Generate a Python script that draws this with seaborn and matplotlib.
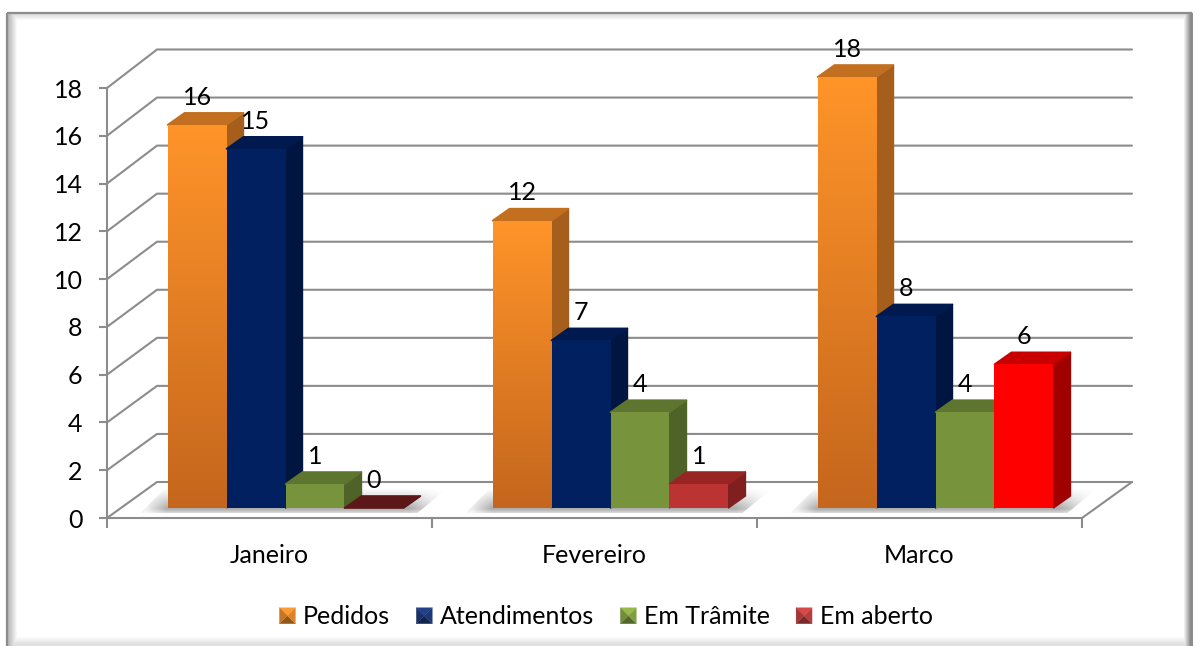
import numpy as np
import pandas as pd
import seaborn as sns
import matplotlib
matplotlib.use('Agg')
from matplotlib import pyplot as plt
from matplotlib.patches import Polygon, Rectangle
from matplotlib.legend_handler import HandlerBase
from matplotlib.colors import to_rgb

# values
meses = ['Janeiro', 'Fevereiro', 'Marco']
series = ['Pedidos', 'Atendimentos', 'Em Trâmite', 'Em aberto']
pedidos = [16, 12, 18]
atendimentos = [15, 7, 8]
em_tramite = [1, 4, 4]
em_aberto = [0, 1, 6]
y_ticks = [0, 2, 4, 6, 8, 10, 12, 14, 16, 18]

W, H = 1200, 646
GRAY = '#8c8c8c'
FS = 18

# (front top, front bottom, top face, side face), one per month
cores = {
    'Pedidos': [('#ff9429', '#c4661d', '#c2701f', '#a65e1c')] * 3,
    'Atendimentos': [('#002060', '#002060', '#001a50', '#00153f')] * 3,
    'Em Trâmite': [('#77933c', '#77933c', '#5e7530', '#4f6228')] * 3,
    'Em aberto': [('#5c1818', '#5c1818', '#5c1818', '#5c1818'),
                  ('#bb3333', '#bb3333', '#982424', '#7f1f1f'),
                  ('#ff0000', '#ff0000', '#c80000', '#a00000')],
}
legend_cores = ['#e98a2a', '#1f3a7a', '#86a544', '#c24040']

sns.set_theme(style='white')
plt.rcParams['font.family'] = ['Lato', 'DejaVu Sans']

df = pd.DataFrame({
    'mes': meses * 4,
    'serie': np.repeat(series, 3),
    'valor': pedidos + atendimentos + em_tramite + em_aberto,
})


def px_axes(fig, left, top, right, bottom):
    return fig.add_axes([left / W, 1 - bottom / H, (right - left) / W, (bottom - top) / H])


def vgrad(c1, c2, n=128):
    a, b = np.array(to_rgb(c1)), np.array(to_rgb(c2))
    t = np.linspace(0, 1, n)[:, None]
    return (a * (1 - t) + b * t)[:, None, :]


fig = plt.figure(figsize=(W / 100, H / 100), dpi=100, facecolor='white')

# chart frame with soft inner shadow
bg = fig.add_axes([0, 0, 1, 1], zorder=0)
bg.axis('off')
xx, yy = np.meshgrid(np.arange(W), np.arange(H))
shade = np.ones((H, W))
shade = np.minimum(shade, 0.72 + 0.28 * np.clip((xx - 8) / 9, 0, 1))
shade = np.minimum(shade, 0.86 + 0.14 * np.clip((yy - 14) / 6, 0, 1))
shade = np.minimum(shade, 0.55 + 0.45 * np.clip((1190 - xx) / 7, 0, 1))
shade = np.minimum(shade, 0.88 + 0.12 * np.clip((643 - yy) / 7, 0, 1))
shade[(xx < 7) | (xx > 1192) | (yy < 13)] = 1
bg.imshow(shade, cmap='gray', vmin=0, vmax=1, extent=(0, W, H, 0), aspect='auto', interpolation='bilinear')
bg.add_patch(Rectangle((7, 13), 1184, 640, fill=False, ec=GRAY, lw=1.6))
bg.set_xlim(0, W)
bg.set_ylim(H, 0)

# front plane of the axes: labels, ticks, floor and back wall
ax = px_axes(fig, 107, 88, 1082, 518)
ax.set_zorder(1)
ax.patch.set_alpha(0)
ax.set_xlim(-0.5, 2.5)
ax.set_ylim(0, 18)
for s in ['top', 'right']:
    ax.spines[s].set_visible(False)
for s in ['left', 'bottom']:
    ax.spines[s].set_color(GRAY)
    ax.spines[s].set_linewidth(1.5)
ax.set_yticks(y_ticks)
ax.set_xticks([-0.5, 0.5, 1.5, 2.5])
ax.set_xticklabels([])
ax.set_xticks([0, 1, 2], minor=True)
ax.set_xticklabels(meses, minor=True)
ax.tick_params(axis='y', left=True, length=6, width=1.5, color=GRAY, pad=11.5, labelsize=FS, labelcolor='black')
ax.tick_params(axis='x', which='major', bottom=True, length=7, width=1.5, color=GRAY)
ax.tick_params(axis='x', which='minor', bottom=False, length=0, pad=19, labelsize=FS, labelcolor='black')

dep_x = 50 / (975 / 3)
dep_y = 36 / (430 / 18)
back = 432.5 / 430
for v in y_ticks:
    ax.plot([-0.5, -0.5 + dep_x, 2.5 + dep_x], [v, v * back + dep_y, v * back + dep_y], color=GRAY, lw=1.5,
            clip_on=False, zorder=1, solid_joinstyle='miter')
ax.plot([2.5, 2.5 + dep_x], [0, dep_y], color=GRAY, lw=1.5, clip_on=False, zorder=1)

# bars plane
ax_b = px_axes(fig, 123, 77, 1098, 508)
ax_b.set_zorder(2)
ax_b.patch.set_alpha(0)
sns.barplot(data=df, x='mes', y='valor', hue='serie', hue_order=series, order=meses,
            width=0.726, gap=0, legend=False, ax=ax_b)
ax_b.set_xlim(-0.5, 2.5)
ax_b.set_ylim(0, 18)
ax_b.axis('off')

px_x = 3 / 975
px_y = 18 / 431
side_x = 17 * px_x
side_y = 12 * px_y

# floor shadow under each group
for g in range(3):
    first = ax_b.containers[0][g]
    last = ax_b.containers[3][g]
    x0, x1 = first.get_x(), last.get_x() + last.get_width()
    y0, y1 = -5 * px_y, 20 * px_y
    poly = Polygon([(x0 - 27 * px_x, y0), (x0 - 2 * px_x, y1), (x1 + 44 * px_x, y1), (x1 + 14 * px_x, y0)],
                   fc='none', ec='none')
    ax_b.add_patch(poly)
    t = np.linspace(0, 1, 64)[:, None]
    u = np.linspace(0, 1, 128)[None, :]
    rgba = np.zeros((64, 128, 4))
    rgba[..., :3] = 0.42
    # fades upward, and sideways at both ends of the group
    rgba[..., 3] = 0.7 * t ** 1.1 * np.clip(u / 0.08, 0.2, 1) * np.clip((1 - u) / 0.12, 0.05, 1)
    # light blur below the bar foot
    rgba[-12:, :, 3] *= np.linspace(1, 0.35, 12)[:, None]
    im = ax_b.imshow(rgba, extent=(x0 - 27 * px_x, x1 + 44 * px_x, y0, y1), aspect='auto', zorder=1.5,
                     origin='upper', interpolation='bilinear')
    im.set_clip_box(fig.bbox)
    im.set_clip_path(poly)

# 3d faces and labels, built from the bars seaborn drew
for i, (nome, cont) in enumerate(zip(series, ax_b.containers)):
    for g, bar in enumerate(cont):
        topo, base, c_top, c_side = cores[nome][g]
        x, w, h = bar.get_x(), bar.get_width(), bar.get_height()
        z = 2 + i + g * 0.01
        ax_b.add_patch(Polygon([(x + w, 0), (x + w + side_x, side_y), (x + w + side_x, h + side_y), (x + w, h)],
                               fc=c_side, ec=c_side, lw=1.0, zorder=z, clip_on=False, joinstyle='round'))
        ax_b.add_patch(Polygon([(x, h), (x + side_x, h + side_y), (x + w + side_x, h + side_y), (x + w, h)],
                               fc=c_top, ec=c_top, lw=1.2, zorder=z, clip_on=False, joinstyle='round'))
        bar.set_facecolor(base)
        bar.set_edgecolor('none')
        bar.set_zorder(z + 0.1)
        if topo != base and h > 0:
            im = ax_b.imshow(vgrad(topo, base), extent=(x, x + w, 0, h), aspect='auto', zorder=z + 0.2)
            im.set_clip_path(bar)
        ax_b.annotate(str(int(h)), (x + w / 2, h), xytext=(0, 20), textcoords='offset points',
                      ha='center', va='center', fontsize=FS, color='black', zorder=20, annotation_clip=False)
ax_b.set_xlim(-0.5, 2.5)
ax_b.set_ylim(0, 18)


# legend keys: small bevelled squares
class BevelHandler(HandlerBase):
    def create_artists(self, legend, orig, xd, yd, width, height, fontsize, trans):
        c = np.array(to_rgb(orig.get_facecolor()))
        s = min(width, height)
        x0, y0 = -xd, -yd + (height - s) / 2
        cx, cy = x0 + s / 2, y0 + s / 2
        cant = [(x0, y0), (x0 + s, y0), (x0 + s, y0 + s), (x0, y0 + s)]
        fator = [0.62, 0.95, 1.12, 0.85]
        out = []
        for k in range(4):
            cor = np.clip(c * fator[k], 0, 1)
            out.append(Polygon([cant[k], cant[(k + 1) % 4], (cx, cy)], fc=cor, ec=cor, lw=0.2, transform=trans))
        return out


handles = [Rectangle((0, 0), 1, 1, fc=c) for c in legend_cores]
fig.legend(handles, series, loc='center', bbox_to_anchor=(606 / W, 1 - 617 / H), ncol=4, frameon=False,
           fontsize=FS, handlelength=0.64, handleheight=0.64, handletextpad=0.3, columnspacing=1.05,
           handler_map={Rectangle: BevelHandler()}, labelcolor='black')

fig.savefig('out.png', dpi=100)
